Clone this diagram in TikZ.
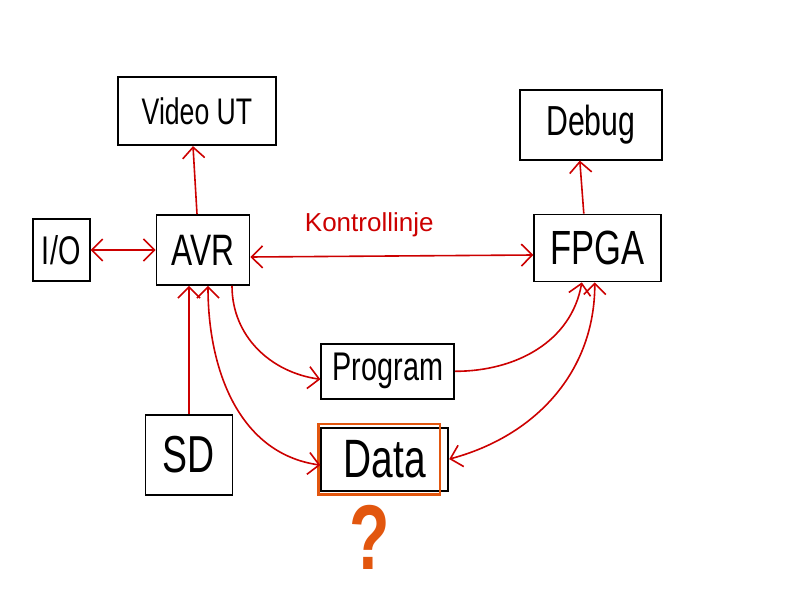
\documentclass[tikz,border=0pt]{standalone}
\usepackage{fontspec}
\setmainfont{Liberation Sans}
\newfontfamily\handnarrow[FakeStretch=0.72]{Liberation Sans}
\usetikzlibrary{positioning, arrows.meta}
\definecolor{linered}{RGB}{204,0,0}
\definecolor{markorange}{RGB}{226,86,14}
\begin{document}
\begin{tikzpicture}[x=1pt, y=-1pt,
  box/.style={draw, line width=1.8pt, inner sep=0pt, font=\handnarrow\fontsize{#1}{#1}\selectfont},
  box/.default=40,
  link/.style={draw=linered, line width=1.6pt},
  >={Straight Barb[length=11pt, width=22pt]}]
\useasboundingbox (0,0) rectangle (792,612);
%\draw[help lines] (0,0) grid[step=50] (792,612);
\node[box=44, minimum width=93pt, minimum height=70pt] (AVR) at (203,250) {AVR};
\node[box=40, minimum width=57pt, minimum height=62pt, left=65pt of AVR] (IO) {I/O};
\node[box=37, minimum width=158pt, minimum height=68pt, above=68pt of AVR, xshift=-6pt] (VideoUT) {Video UT};
\node[box=48, minimum width=127pt, minimum height=67pt, right=283pt of AVR, yshift=2pt] (FPGA) {FPGA};
\node[box=42, minimum width=142pt, minimum height=70pt, above=53pt of FPGA, xshift=-7pt] (Debug) {Debug};
\node[box=52, minimum width=87pt, minimum height=80pt, below=128pt of AVR, xshift=-14pt] (SD) {SD};
\node[box=40, minimum width=133pt, minimum height=55pt, below right=57pt and 70pt of AVR] (Program) {Program};
\node[box=54, minimum width=127pt, minimum height=63pt, below=27pt of Program, xshift=-3pt] (Data) {Data};

% mark around Data
\draw[markorange, line width=2.4pt] ([xshift=-2pt, yshift=3pt]Data.north west) rectangle ([xshift=-9pt, yshift=-3pt]Data.south east);
\node[below=10pt of Data, xshift=-15pt, text=markorange, font=\handnarrow\bfseries\fontsize{92}{92}\selectfont] (Quest) {?};

% connectors
\draw[link, ->] ([xshift=-6pt]AVR.north) -- ([xshift=-4pt]VideoUT.south);
\draw[link, <->] (IO.east) -- (AVR.west);
\draw[link, <->] ([yshift=-7pt]AVR.east) -- ([yshift=-7pt]FPGA.west)
  node[pos=0.42, above=15pt, text=linered, font=\fontsize{26}{26}\selectfont] (Ctrl) {Kontrollinje};
\draw[link, ->] ([xshift=-14pt]FPGA.north) -- ([xshift=-11pt]Debug.south);
\draw[link, ->] (SD.north) -- (SD.north |- AVR.south);
\draw[link, <->] ([xshift=5pt]AVR.south) to[out=-90, in=172] ([yshift=-6pt]Data.west);
\draw[link, ->] ([xshift=29pt]AVR.south) to[out=-90, in=172] ([yshift=-8pt]Program.west);
\draw[link, ->] (Program.east) to[out=0, in=-100] ([xshift=-16pt]FPGA.south);
\draw[link, <->] ([xshift=-3pt]FPGA.south) to[out=-90, in=15] (Data.east);
\end{tikzpicture}
\end{document}
